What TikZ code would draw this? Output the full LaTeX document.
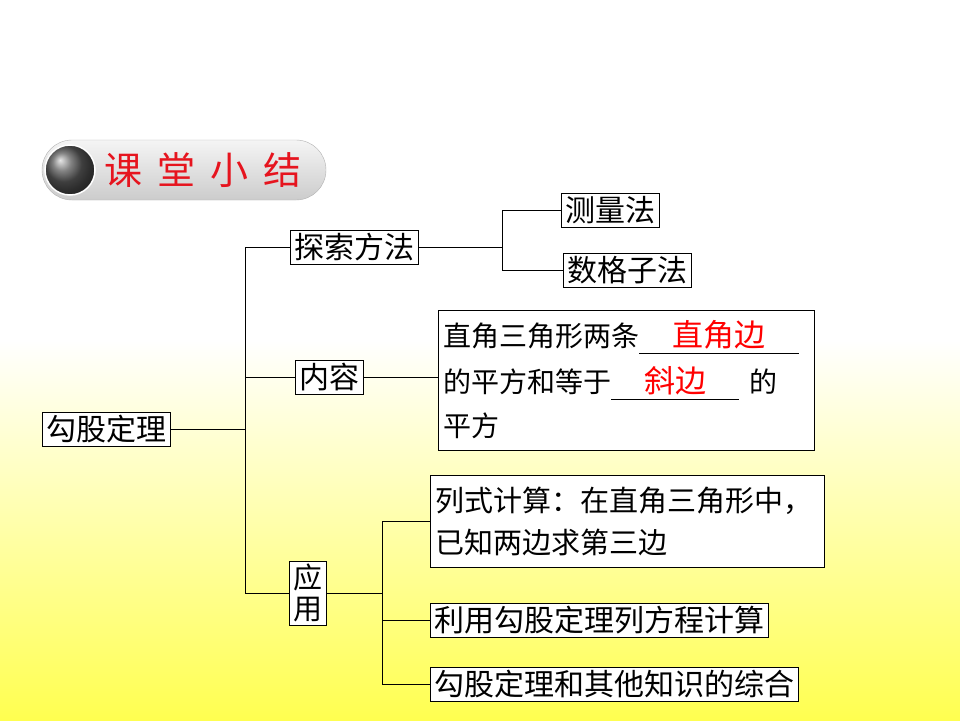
\documentclass[tikz,border=0pt]{standalone}
\usepackage{fontspec}
\setmainfont{Noto Sans CJK SC}
\usetikzlibrary{positioning,calc,shadings}
\definecolor{bgyellow}{RGB}{255,255,80}
\definecolor{titlered}{RGB}{230,20,30}
\newcommand{\blankfill}[2]{\rlap{\rule[-7pt]{#1}{0.6pt}}\makebox[#1]{\color{red}#2}}

\begin{document}
\begin{tikzpicture}[x=1pt,y=-1pt,
    box/.style={draw, fill=white, thin, inner xsep=4pt, inner ysep=3pt, font=\fontsize{30}{34}\selectfont},
    wide/.style={box, align=left, inner sep=5pt},
    link/.style={thin}]
    % background
    \useasboundingbox (0,0) rectangle (960,720);
    \fill[white] (0,0) rectangle (960,340);
    \shade[top color=white, bottom color=bgyellow] (0,340) rectangle (960,720);

    % title badge
    \shade[top color=gray!8, bottom color=gray!40, draw=gray!60, rounded corners=30pt]
        (42,140) rectangle (326,200);
    \shade[ball color=gray!70!black] (70,170) circle (25);
    \draw[white, line width=1.5pt] (70,170) circle (25);
    \node[titlered, font=\fontsize{38}{38}\selectfont] (title) at (203,170)
        {课\hspace{15pt}堂\hspace{15pt}小\hspace{15pt}结};

    % tree nodes
    \node[box] (root) at (106,429) {勾股定理};
    \node[box] (explore) at (354,247) {探索方法};
    \node[box] (measure) at (610,210) {测量法};
    \node[box] (count) at (627,270) {数格子法};
    \node[box] (inner) at (329,377) {内容};
    \node[wide, anchor=west, text width=366pt, minimum height=140pt,
          font=\fontsize{28}{32}\selectfont] (content) at (438,380)
        {直角三角形两条\blankfill{160pt}{\fontsize{31}{32}\selectfont 直角边}\\[12pt]
         的平方和等于\blankfill{128pt}{\fontsize{31}{32}\selectfont 斜边}\hspace{10pt}的\\[12pt]
         平方};
    \node[box, align=center, font=\fontsize{29}{31}\selectfont] (apply) at (308,593) {应\\用};
    \node[wide, anchor=west, text width=384pt, minimum height=92pt,
          font=\fontsize{29}{32}\selectfont] (formula) at (430,521)
        {列式计算：在直角三角形中，\\[10pt]已知两边求第三边};
    \node[box, anchor=west] (equation) at (430,620) {利用勾股定理列方程计算};
    \node[box, anchor=west] (combine) at (430,684) {勾股定理和其他知识的综合};

    % connectors
    \coordinate (trunk) at (245,0);
    \coordinate (fork) at (502,0);
    \coordinate (split) at (382,0);
    \draw[link] (root.east) -- (root.east -| trunk);
    \draw[link] (explore.west) -| (trunk |- apply.west) -- (apply.west);
    \draw[link] (inner.west) -- (inner.west -| trunk);
    \draw[link] (explore.east) -- (explore.east -| fork);
    \draw[link] (measure.west) -| (fork |- count.west) -- (count.west);
    \draw[link] (inner.east) -- (inner.east -| content.west);
    \draw[link] (apply.east) -- (apply.east -| split);
    \draw[link] (formula.west) -| (split |- combine.west) -- (combine.west);
    \draw[link] (equation.west) -- (equation.west -| split);
\end{tikzpicture}
\end{document}
